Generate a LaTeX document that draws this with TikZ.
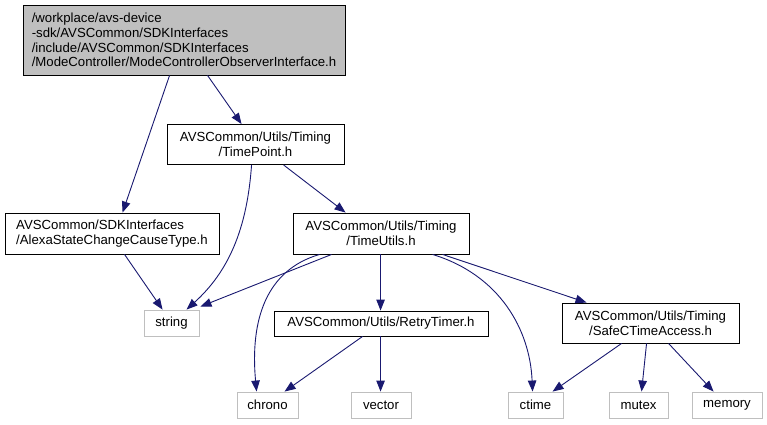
\documentclass[tikz,border=0pt]{standalone}
\usepackage{fontspec}
\setmainfont{Liberation Sans}
\usetikzlibrary{arrows.meta,calc}
\definecolor{edgeblue}{HTML}{191970}
\definecolor{lightborder}{HTML}{BFBFBF}
\definecolor{topfill}{HTML}{BFBFBF}
\begin{document}
\begin{tikzpicture}[x=1pt,y=-1pt,
  every node/.style={font=\fontsize{13.2}{14.8}\selectfont, inner sep=0pt},
  filebox/.style={draw=black, line width=0.9pt, fill=white},
  sysbox/.style={draw=lightborder, line width=0.9pt, fill=white},
  topbox/.style={draw=black, line width=0.9pt, fill=topfill},
  dep/.style={draw=edgeblue, line width=0.9pt, -{Triangle[length=11pt,width=8.5pt]}, fill=none}
]
\useasboundingbox (0,0) rectangle (767,424);

% nodes
\node[topbox, minimum width=322, minimum height=70, align=left] (top) at (184,40)
  {/workplace/avs-device\\-sdk/AVSCommon/SDKInterfaces\\/include/AVSCommon/SDKInterfaces\\/ModeController/ModeControllerObserverInterface.h};
\node[filebox, minimum width=177, minimum height=40, align=center] (tp) at (255.5,144.5)
  {AVSCommon/Utils/Timing\\/TimePoint.h};
\node[filebox, minimum width=214, minimum height=41, align=left] (alexa) at (112,233.5)
  {AVSCommon/SDKInterfaces\\/AlexaStateChangeCauseType.h};
\node[filebox, minimum width=176, minimum height=41, align=center] (tu) at (381,233.5)
  {AVSCommon/Utils/Timing\\/TimeUtils.h};
\node[sysbox, minimum width=55, minimum height=26] (string) at (171.5,323) {string};
\node[filebox, minimum width=214, minimum height=25] (rt) at (381,323.5) {AVSCommon/Utils/RetryTimer.h};
\node[filebox, minimum width=177, minimum height=40, align=center] (sc) at (650.5,323)
  {AVSCommon/Utils/Timing\\/SafeCTimeAccess.h};
\node[sysbox, minimum width=61, minimum height=26] (chrono) at (267.5,405) {chrono};
\node[sysbox, minimum width=60, minimum height=26] (vector) at (381,405) {vector};
\node[sysbox, minimum width=55, minimum height=26] (ctime) at (535.5,405) {ctime};
\node[sysbox, minimum width=59, minimum height=26] (mutex) at (638.5,405) {mutex};
\node[sysbox, minimum width=70, minimum height=26] (memory) at (727,405) {memory};

% edges
\draw[dep] ($(top.south west)+(147,0)$) -- ($(alexa.north west)+(118,0)$);
\draw[dep] ($(top.south west)+(185,0)$) -- ($(tp.north west)+(75,0)$);
\draw[dep] ($(tp.south west)+(85,0)$) .. controls (247,230) and (228,272) .. ($(string.north west)+(43,0)$);
\draw[dep] ($(tp.south west)+(117,0)$) -- ($(tu.north west)+(53,0)$);
\draw[dep] ($(alexa.south west)+(120,0)$) -- ($(string.north west)+(19,0)$);
\draw[dep] ($(tu.south west)+(39,0)$) -- ($(string.north east)+(1,-3)$);
\draw[dep] ($(tu.south west)+(27,0)$) .. controls (266,270) and (250,320) .. ($(chrono.north west)+(20,0)$);
\draw[dep] ($(tu.south west)+(88,0)$) -- ($(rt.north west)+(107,0)$);
\draw[dep] ($(tu.south west)+(140,0)$) .. controls (500,275) and (530,330) .. ($(ctime.north west)+(25,0)$);
\draw[dep] ($(tu.south west)+(150,0)$) -- ($(sc.north west)+(25,0)$);
\draw[dep] ($(rt.south west)+(89,0)$) -- ($(chrono.north west)+(48,0)$);
\draw[dep] ($(rt.south west)+(107,0)$) -- ($(vector.north west)+(30,0)$);
\draw[dep] ($(sc.south west)+(60,0)$) -- ($(ctime.north west)+(45,0)$);
\draw[dep] ($(sc.south west)+(85,0)$) -- ($(mutex.north west)+(33,0)$);
\draw[dep] ($(sc.south west)+(107,0)$) -- ($(memory.north west)+(22,0)$);
\end{tikzpicture}
\end{document}
